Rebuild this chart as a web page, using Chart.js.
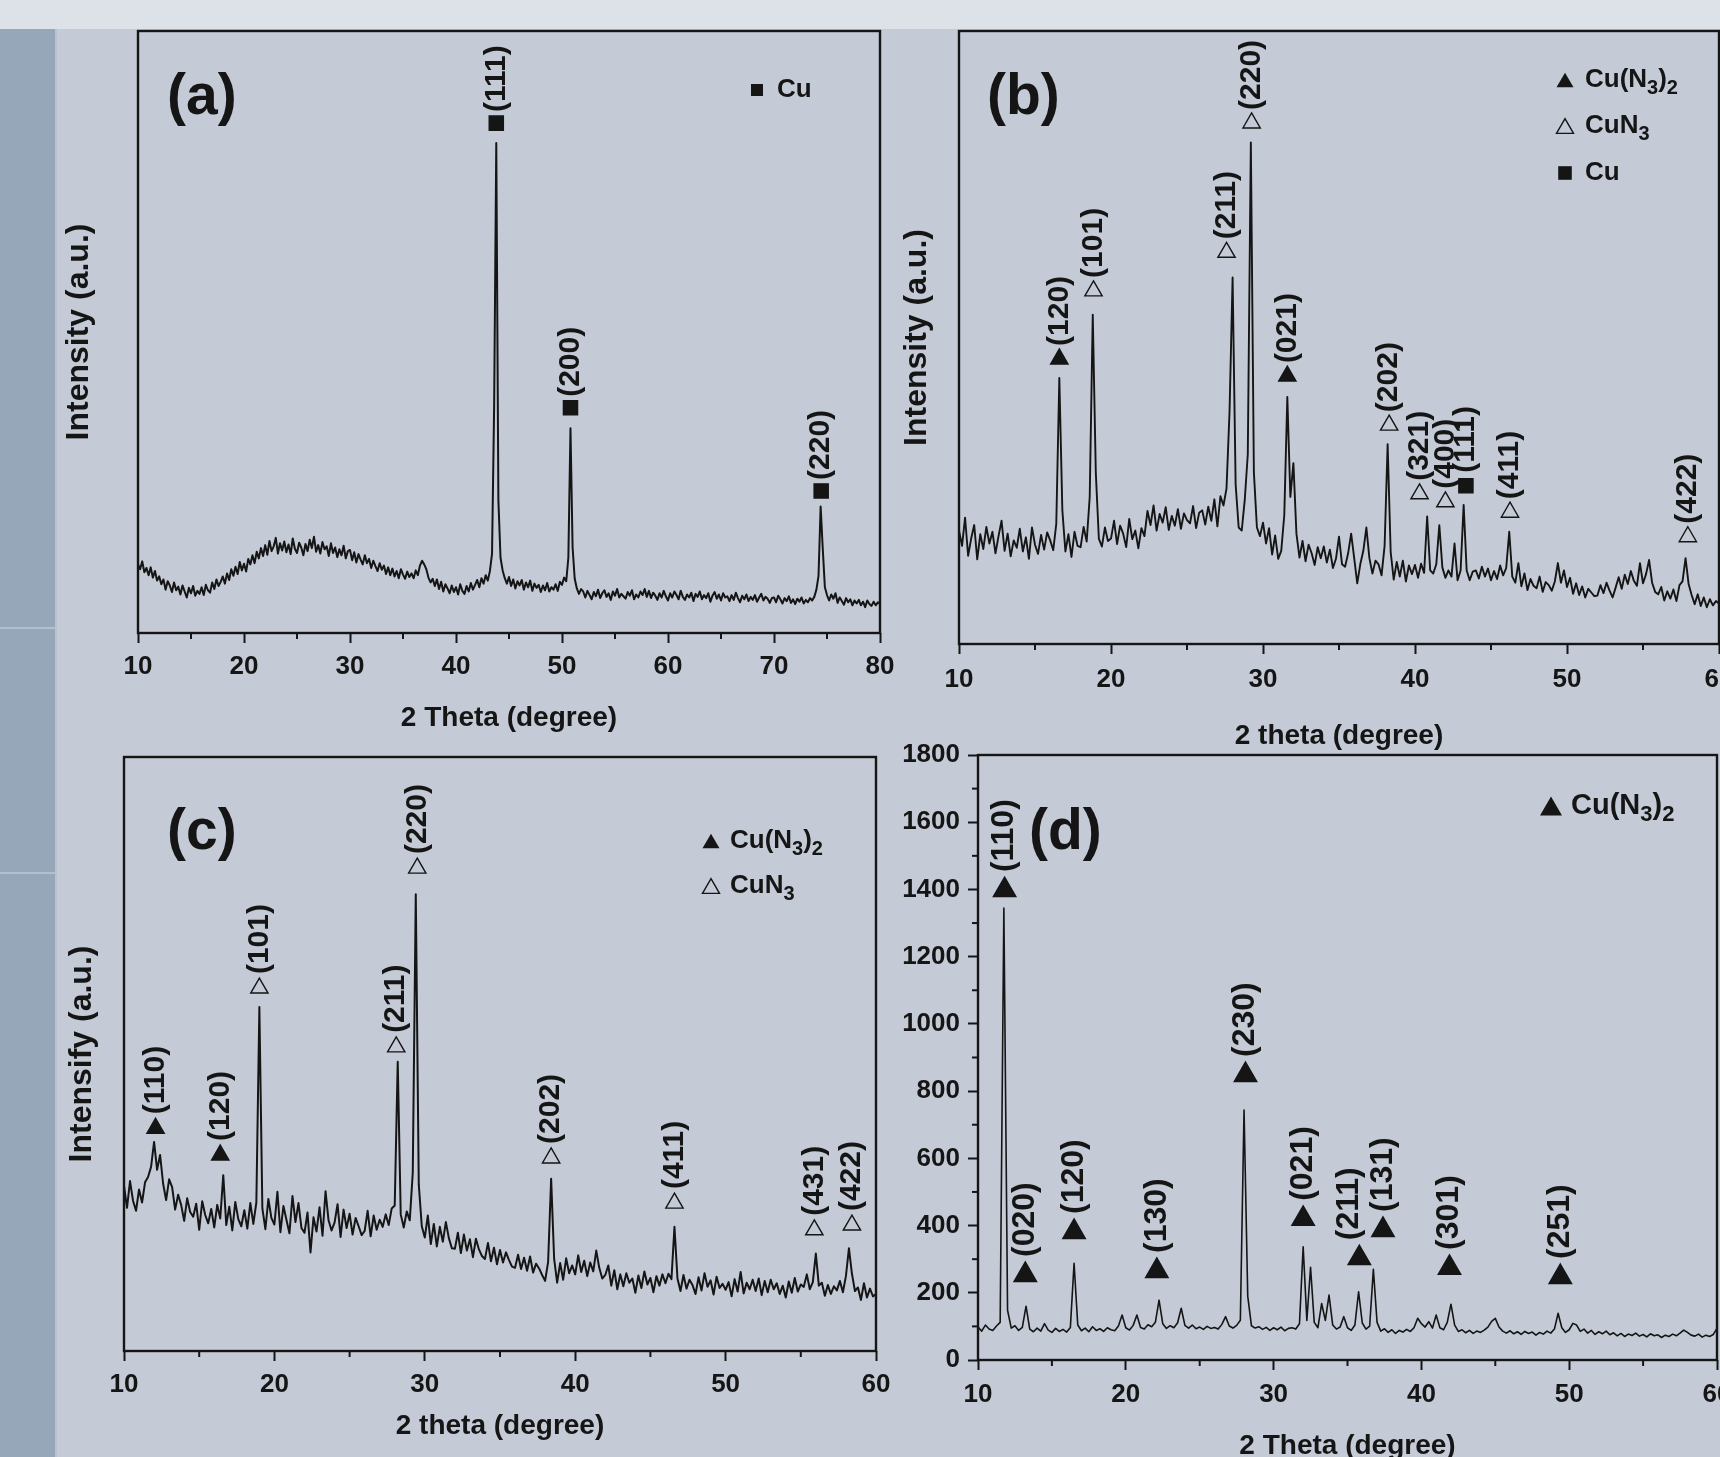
<!DOCTYPE html>
<html>
<head>
<meta charset="utf-8">
<title>XRD patterns (a)-(d)</title>
<script src="https://cdn.jsdelivr.net/npm/chart.js@4.4.1/dist/chart.umd.min.js"></script>
<style>
  html, body { margin: 0; padding: 0; }
  body { width: 1720px; height: 1457px; overflow: hidden; position: relative; background: #c5cbd6; }
  .band { position: absolute; left: 0; top: 0; width: 1720px; height: 29px; background: #dde1e8; }
  .side { position: absolute; left: 0; top: 29px; width: 55px; height: 1428px; background: #97a7ba; border-right: 2px solid #b9c3d0; }
  .rule { position: absolute; left: 0; width: 55px; height: 2px; background: #b3bfcd; }
  canvas { position: absolute; }
</style>
</head>
<body>
<div class="band"></div>
<div class="side"></div>
<div class="rule" style="top:627px"></div>
<div class="rule" style="top:872px"></div>
<canvas id="pa" width="900" height="740" style="left:0;top:0"></canvas>
<canvas id="pb" width="820" height="760" style="left:900px;top:0"></canvas>
<canvas id="pc" width="900" height="717" style="left:0;top:740px"></canvas>
<canvas id="pd" width="840" height="740" style="left:880px;top:740px"></canvas>
<script>
const FONT = "'Liberation Sans', Arial, Helvetica, sans-serif";
const INK = '#151515';

// 2theta grid (degrees) used by (a), (b) and (c)
const theta02 = [
  10,10.2,10.4,10.6,10.8,11,11.2,11.4,11.6,11.8,
  12,12.2,12.4,12.6,12.8,13,13.2,13.4,13.6,13.8,
  14,14.2,14.4,14.6,14.8,15,15.2,15.4,15.6,15.8,
  16,16.2,16.4,16.6,16.8,17,17.2,17.4,17.6,17.8,
  18,18.2,18.4,18.6,18.8,19,19.2,19.4,19.6,19.8,
  20,20.2,20.4,20.6,20.8,21,21.2,21.4,21.6,21.8,
  22,22.2,22.4,22.6,22.8,23,23.2,23.4,23.6,23.8,
  24,24.2,24.4,24.6,24.8,25,25.2,25.4,25.6,25.8,
  26,26.2,26.4,26.6,26.8,27,27.2,27.4,27.6,27.8,
  28,28.2,28.4,28.6,28.8,29,29.2,29.4,29.6,29.8,
  30,30.2,30.4,30.6,30.8,31,31.2,31.4,31.6,31.8,
  32,32.2,32.4,32.6,32.8,33,33.2,33.4,33.6,33.8,
  34,34.2,34.4,34.6,34.8,35,35.2,35.4,35.6,35.8,
  36,36.2,36.4,36.6,36.8,37,37.2,37.4,37.6,37.8,
  38,38.2,38.4,38.6,38.8,39,39.2,39.4,39.6,39.8,
  40,40.2,40.4,40.6,40.8,41,41.2,41.4,41.6,41.8,
  42,42.2,42.4,42.6,42.8,43,43.2,43.4,43.6,43.8,
  44,44.2,44.4,44.6,44.8,45,45.2,45.4,45.6,45.8,
  46,46.2,46.4,46.6,46.8,47,47.2,47.4,47.6,47.8,
  48,48.2,48.4,48.6,48.8,49,49.2,49.4,49.6,49.8,
  50,50.2,50.4,50.6,50.8,51,51.2,51.4,51.6,51.8,
  52,52.2,52.4,52.6,52.8,53,53.2,53.4,53.6,53.8,
  54,54.2,54.4,54.6,54.8,55,55.2,55.4,55.6,55.8,
  56,56.2,56.4,56.6,56.8,57,57.2,57.4,57.6,57.8,
  58,58.2,58.4,58.6,58.8,59,59.2,59.4,59.6,59.8,
  60,60.2,60.4,60.6,60.8,61,61.2,61.4,61.6,61.8,
  62,62.2,62.4,62.6,62.8,63,63.2,63.4,63.6,63.8,
  64,64.2,64.4,64.6,64.8,65,65.2,65.4,65.6,65.8,
  66,66.2,66.4,66.6,66.8,67,67.2,67.4,67.6,67.8,
  68,68.2,68.4,68.6,68.8,69,69.2,69.4,69.6,69.8,
  70,70.2,70.4,70.6,70.8,71,71.2,71.4,71.6,71.8,
  72,72.2,72.4,72.6,72.8,73,73.2,73.4,73.6,73.8,
  74,74.2,74.4,74.6,74.8,75,75.2,75.4,75.6,75.8,
  76,76.2,76.4,76.6,76.8,77,77.2,77.4,77.6,77.8,
  78,78.2,78.4,78.6,78.8,79,79.2,79.4,79.6,79.8,
  80
];

// ---- (a) Cu : intensity (a.u., 0-100 of the frame height), 10-80 deg
const intensityA = [
  11.4,10.6,11.9,10.1,10.8,9.6,10.9,9.2,10.3,8.7,
  9.4,8.1,8.9,7.2,8.6,7.9,6.8,8.4,7.1,7.7,
  6.4,7.9,6.9,5.9,7.5,6.6,7.8,6.2,7.0,6.5,
  7.6,6.3,8.0,7.1,6.7,8.4,7.3,8.9,7.8,8.5,
  9.4,8.2,9.9,8.8,10.6,9.5,11.0,9.8,11.8,10.4,
  11.5,10.2,12.3,11.4,12.9,11.6,13.5,12.4,14.1,12.8,
  14.6,13.0,15.3,13.6,14.4,15.8,13.2,14.9,13.7,15.2,
  13.4,14.7,13.1,15.7,14.0,13.3,15.0,14.2,12.9,14.8,
  13.6,15.5,14.1,16.0,13.5,14.6,13.2,15.1,13.9,14.4,
  12.8,14.9,13.3,14.2,12.6,13.9,12.9,14.5,12.4,13.6,
  13.8,12.1,13.4,11.7,13.1,12.2,11.4,12.9,11.6,12.3,
  10.8,12.0,11.1,10.3,11.6,10.5,11.2,9.8,10.9,9.6,
  10.7,9.4,10.3,9.1,10.6,9.7,9.0,10.2,9.3,9.9,
  9.1,10.4,9.6,11.2,12.0,11.4,10.6,9.2,8.4,9.0,
  7.8,8.9,7.3,8.5,6.9,8.1,7.4,6.6,7.9,6.8,
  7.6,6.4,8.1,7.0,6.5,7.8,6.9,8.3,7.2,8.0,
  8.8,7.6,9.1,8.2,9.6,8.7,10.3,13.2,38.0,81.4,
  22.0,12.5,10.4,9.1,8.2,9.3,7.8,8.9,7.4,8.6,
  7.9,8.8,7.2,8.4,7.6,8.7,7.0,8.2,7.5,8.0,
  6.8,7.9,7.1,8.3,6.9,7.6,7.2,8.1,7.0,8.5,
  8.0,9.2,8.6,12.5,34.0,14.2,9.0,7.4,6.5,7.3,
  6.9,5.9,7.0,6.3,5.6,6.8,6.1,7.2,5.8,6.6,
  7.1,6.0,6.6,5.5,6.9,6.2,7.3,5.9,6.5,6.1,
  5.7,6.8,6.2,7.1,5.6,6.4,5.9,6.9,6.3,7.3,
  6.0,7.0,5.8,6.7,6.2,5.5,6.6,5.9,7.0,6.1,
  5.4,6.6,5.9,6.9,6.3,5.6,7.0,6.0,5.5,6.4,
  5.9,6.7,5.3,6.5,6.0,6.9,5.6,6.3,5.8,6.6,
  5.2,6.2,6.8,5.7,6.4,5.4,6.6,5.9,6.1,5.3,
  6.3,5.5,6.7,5.8,5.1,6.2,5.6,6.4,5.3,6.0,
  5.5,6.3,5.2,5.9,6.5,5.4,6.0,5.7,5.0,5.8,
  5.9,5.1,6.2,5.6,4.9,5.8,5.3,6.1,5.0,5.6,
  4.8,5.7,5.2,5.9,4.9,5.5,5.1,5.8,5.4,6.0,
  7.2,9.5,21.0,14.0,7.6,6.3,5.4,6.4,5.7,6.6,
  5.0,5.9,5.3,4.7,5.8,5.1,5.6,4.6,5.4,4.9,
  5.5,4.6,5.2,4.3,5.4,4.8,4.5,5.2,4.6,5.1,
  4.8
];
const aMarkTheta = [43.8, 50.8, 74.45];
const aMarkY     = [84.7, 37.4, 23.6];
const aMarkHkl   = ['(111)', '(200)', '(220)'];
const aMarkPhase = ['Cu', 'Cu', 'Cu'];
const aLegend    = ['Cu'];

// ---- (b) intensity (a.u.), 10-60 deg on theta02
const intensityB = [
  18.5,16.0,20.6,14.4,17.2,19.4,13.8,17.9,15.5,19.1,
  16.4,18.3,14.8,17.6,20.1,15.2,18.0,14.3,16.9,15.7,
  18.8,15.1,17.4,13.9,19.0,16.2,14.7,17.8,15.4,18.2,
  16.9,15.3,19.6,43.4,21.8,15.1,17.9,14.2,18.3,16.0,
  15.8,19.1,16.7,24.0,53.7,28.0,17.2,15.9,19.0,16.8,
  17.2,20.1,16.3,19.3,18.0,15.8,20.4,17.1,18.5,15.6,
  18.9,17.6,21.7,19.4,22.6,18.5,21.2,19.8,22.3,18.6,
  20.9,19.3,22.0,18.8,21.3,20.2,19.7,22.5,18.9,21.4,
  21.8,19.5,22.4,20.1,23.6,19.2,24.1,22.6,25.4,38.0,
  59.8,26.0,19.0,18.5,23.5,31.0,81.8,28.0,19.0,17.6,
  19.8,16.4,18.9,14.6,17.7,13.9,15.2,21.0,40.3,24.0,
  29.5,18.0,14.1,16.8,13.5,16.2,14.8,12.9,15.8,14.0,
  15.9,13.3,15.4,12.4,13.9,17.5,13.0,12.6,14.8,18.0,
  14.0,9.9,13.0,15.2,19.0,14.0,11.5,13.6,13.0,11.2,
  16.0,32.6,15.0,10.5,13.4,11.0,13.6,10.2,12.8,11.4,
  12.9,10.8,13.1,11.6,20.8,12.0,11.5,13.0,19.4,12.5,
  10.8,12.0,11.0,16.4,10.4,12.0,22.7,12.0,10.4,11.8,
  12.0,10.7,12.6,11.0,12.3,10.4,11.9,10.6,12.8,11.2,
  12.4,18.3,11.0,10.0,13.2,9.4,11.5,8.8,10.6,9.5,
  9.1,11.0,8.5,10.1,9.6,8.7,10.2,13.2,10.0,12.0,
  9.3,10.8,8.2,9.9,8.0,9.4,7.6,9.0,8.4,7.8,
  7.9,9.6,8.3,10.0,8.7,7.6,9.2,10.9,9.0,11.3,
  9.8,11.9,10.3,9.5,13.2,9.9,11.4,13.7,10.0,8.5,
  8.1,9.3,7.1,8.6,7.4,8.9,7.0,9.6,10.2,14.0,
  9.8,8.0,6.5,8.1,6.2,7.6,6.0,7.3,6.3,7.0,
  6.6
];
const bMarkTheta = [16.6, 18.85, 27.6, 29.25, 31.6, 38.3, 40.3, 42.0, 43.35, 46.25, 57.95];
const bMarkY     = [46.5, 57.6, 63.9, 85.0, 43.7, 35.7, 24.5, 23.2, 25.8, 21.5, 17.5];
const bMarkHkl   = ['(120)', '(101)', '(211)', '(220)', '(021)', '(202)', '(321)', '(400)', '(111)', '(411)', '(422)'];
const bMarkPhase = ['CuN32', 'CuN3', 'CuN3', 'CuN3', 'CuN32', 'CuN3', 'CuN3', 'CuN3', 'Cu', 'CuN3', 'CuN3'];
const bLegend    = ['CuN32', 'CuN3', 'Cu'];

// ---- (c) intensity (a.u.), 10-60 deg on theta02
const intensityC = [
  27.8,24.1,28.6,25.3,23.6,27.2,25.0,28.4,29.3,31.0,
  35.2,30.5,33.0,28.2,25.4,28.9,27.6,23.8,26.3,24.6,
  21.9,25.7,23.4,22.6,24.8,20.4,25.2,22.9,21.5,23.9,
  20.8,24.6,22.3,29.6,21.2,24.3,20.3,25.1,22.2,21.0,
  23.7,20.6,24.9,21.4,25.0,57.9,24.0,20.5,25.6,22.4,
  21.3,26.8,20.0,24.4,22.1,19.8,26.1,21.7,24.9,20.7,
  19.9,23.3,16.6,22.5,20.1,24.2,19.4,26.9,22.0,20.3,
  21.6,24.7,19.2,23.8,20.7,23.1,19.6,22.4,21.0,19.5,
  20.2,23.6,19.3,22.8,20.4,22.1,20.9,23.0,21.2,24.0,
  24.5,48.7,23.0,20.8,23.5,22.0,30.0,76.9,28.0,21.0,
  19.1,22.8,18.0,21.4,17.6,20.9,18.4,21.7,19.0,17.3,
  17.2,19.9,16.5,19.6,16.9,18.8,15.8,18.9,17.1,16.0,
  15.5,18.2,15.1,17.4,14.6,17.0,14.9,16.6,15.3,14.2,
  14.0,16.2,13.8,15.7,13.5,15.9,13.2,14.7,13.9,12.8,
  11.8,15.0,29.0,15.5,11.5,14.8,12.0,15.6,13.1,14.4,
  12.9,16.1,13.3,15.2,12.6,14.9,13.4,16.9,14.0,12.2,
  12.8,14.4,11.0,13.6,10.4,12.9,10.9,13.1,11.5,12.2,
  9.8,12.7,10.6,13.4,11.2,12.3,9.9,12.6,11.0,12.9,
  11.4,13.0,12.1,20.9,12.2,10.1,12.8,10.5,12.0,11.1,
  9.6,12.4,10.2,13.1,10.8,11.9,9.5,12.5,10.6,11.3,
  10.3,11.6,9.2,12.1,10.0,13.3,9.7,11.5,10.4,12.0,
  10.1,12.2,9.4,11.8,9.9,12.0,10.4,11.4,9.6,11.0,
  9.0,11.7,9.8,12.3,10.0,11.2,10.8,12.9,10.4,11.6,
  16.4,11.0,11.5,9.3,11.1,9.6,10.9,10.2,11.8,9.9,
  12.6,17.3,13.0,10.1,10.7,8.6,11.4,9.0,10.5,9.2,
  9.6
];
const cMarkTheta = [12.1, 16.4, 19.0, 28.1, 29.5, 38.4, 46.6, 55.9, 58.4];
const cMarkY     = [37.5, 33.0, 61.1, 51.2, 81.3, 32.5, 24.9, 20.4, 21.2];
const cMarkHkl   = ['(110)', '(120)', '(101)', '(211)', '(220)', '(202)', '(411)', '(431)', '(422)'];
const cMarkPhase = ['CuN32', 'CuN32', 'CuN3', 'CuN3', 'CuN3', 'CuN3', 'CuN3', 'CuN3', 'CuN3'];
const cLegend    = ['CuN32', 'CuN3'];

// ---- (d) counts, 2theta grid (degrees)
const thetaD = [
  10,10.25,10.5,10.75,11,11.25,11.5,11.75,
  12,12.25,12.5,12.75,13,13.25,13.5,13.75,
  14,14.25,14.5,14.75,15,15.25,15.5,15.75,
  16,16.25,16.5,16.75,17,17.25,17.5,17.75,
  18,18.25,18.5,18.75,19,19.25,19.5,19.75,
  20,20.25,20.5,20.75,21,21.25,21.5,21.75,
  22,22.25,22.5,22.75,23,23.25,23.5,23.75,
  24,24.25,24.5,24.75,25,25.25,25.5,25.75,
  26,26.25,26.5,26.75,27,27.25,27.5,27.75,
  28,28.25,28.5,28.75,29,29.25,29.5,29.75,
  30,30.25,30.5,30.75,31,31.25,31.5,31.75,
  32,32.25,32.5,32.75,33,33.25,33.5,33.75,
  34,34.25,34.5,34.75,35,35.25,35.5,35.75,
  36,36.25,36.5,36.75,37,37.25,37.5,37.75,
  38,38.25,38.5,38.75,39,39.25,39.5,39.75,
  40,40.25,40.5,40.75,41,41.25,41.5,41.75,
  42,42.25,42.5,42.75,43,43.25,43.5,43.75,
  44,44.25,44.5,44.75,45,45.25,45.5,45.75,
  46,46.25,46.5,46.75,47,47.25,47.5,47.75,
  48,48.25,48.5,48.75,49,49.25,49.5,49.75,
  50,50.25,50.5,50.75,51,51.25,51.5,51.75,
  52,52.25,52.5,52.75,53,53.25,53.5,53.75,
  54,54.25,54.5,54.75,55,55.25,55.5,55.75,
  56,56.25,56.5,56.75,57,57.25,57.5,57.75,
  58,58.25,58.5,58.75,59,59.25,59.5,59.75,
  60
];
const countsD = [
  98,86,104,92,88,101,112,1345,
  148,95,102,88,97,160,92,84,
  95,86,108,89,82,94,85,91,
  83,97,288,104,87,95,84,99,
  88,93,85,96,90,87,101,134,
  96,89,103,134,97,92,105,99,
  112,178,108,94,102,96,110,154,
  103,95,104,93,98,91,100,94,
  97,92,106,129,101,95,103,118,
  744,190,102,95,99,91,97,88,
  96,90,98,87,94,96,92,108,
  337,118,276,112,96,168,118,193,
  104,92,98,129,96,88,104,203,
  110,92,101,270,112,86,93,82,
  90,79,88,83,91,85,96,124,
  108,98,114,95,134,96,90,112,
  166,104,85,90,81,88,79,86,
  82,89,98,115,124,98,86,80,
  87,78,84,76,85,79,83,74,
  82,77,86,80,92,139,96,82,
  90,109,104,85,92,80,88,76,
  84,78,86,75,81,72,79,70,
  77,73,80,71,76,69,78,72,
  75,67,74,70,77,72,80,89,
  82,74,71,77,68,74,70,76,
  94
];
const dMarkTheta = [11.8, 13.2, 16.5, 22.1, 28.1, 32.0, 35.8, 37.4, 41.9, 49.4];
const dMarkY     = [1398, 253, 381, 265, 848, 420, 303, 387, 274, 247];
const dMarkHkl   = ['(110)', '(020)', '(120)', '(130)', '(230)', '(021)', '(211)', '(131)', '(301)', '(251)'];
const dMarkPhase = ['CuN32', 'CuN32', 'CuN32', 'CuN32', 'CuN32', 'CuN32', 'CuN32', 'CuN32', 'CuN32', 'CuN32'];
const dLegend    = ['CuN32'];

// phase symbols and legend names
const phaseStyle = {
  Cu:    { shape: 'rect',     fill: true },
  CuN3:  { shape: 'triangle', fill: false },
  CuN32: { shape: 'triangle', fill: true }
};
const phaseText = {
  Cu:    [['Cu', 0]],
  CuN3:  [['CuN', 0], ['3', 1]],
  CuN32: [['Cu(N', 0], ['3', 1], [')', 0], ['2', 1]]
};

function drawMarker(ctx, phase, x, y, size) {
  const st = phaseStyle[phase];
  ctx.beginPath();
  if (st.shape === 'rect') {
    const s = size * 0.8;
    ctx.rect(x - s / 2, y - s / 2, s, s);
  } else {
    const h = size * 0.866;
    ctx.moveTo(x, y - h / 2);
    ctx.lineTo(x + size / 2, y + h / 2);
    ctx.lineTo(x - size / 2, y + h / 2);
    ctx.closePath();
  }
  if (st.fill) { ctx.fillStyle = INK; ctx.fill(); }
  else { ctx.lineWidth = 1.4; ctx.strokeStyle = INK; ctx.stroke(); }
}

function drawFormula(ctx, phase, x, y, size) {
  let cx = x;
  ctx.fillStyle = INK;
  ctx.textAlign = 'left';
  ctx.textBaseline = 'middle';
  phaseText[phase].forEach(([t, sub]) => {
    ctx.font = `bold ${sub ? Math.round(size * 0.75) : size}px ${FONT}`;
    ctx.fillText(t, cx, y + (sub ? size * 0.32 : 0));
    cx += ctx.measureText(t).width;
  });
}

// frame, minor ticks, panel letter, legend and (hkl) labels
function makeDecor(p) {
  return {
    id: 'decor',
    afterDatasetsDraw(chart) {
      const { ctx, chartArea: A, scales: { x, y } } = chart;
      ctx.save();
      ctx.strokeStyle = INK;
      ctx.lineWidth = 2.4;
      ctx.strokeRect(A.left, A.top, A.right - A.left, A.bottom - A.top);
      ctx.lineWidth = 2;
      for (let v = x.min + 5; v < x.max; v += 10) {
        const px = x.getPixelForValue(v);
        ctx.beginPath(); ctx.moveTo(px, A.bottom); ctx.lineTo(px, A.bottom + 6); ctx.stroke();
      }
      if (p.minorY) {
        for (let v = p.minorY; v < y.max; v += 2 * p.minorY) {
          const py = y.getPixelForValue(v);
          ctx.beginPath(); ctx.moveTo(A.left, py); ctx.lineTo(A.left - 6, py); ctx.stroke();
        }
      }
      ctx.fillStyle = INK;
      ctx.textAlign = 'left';
      ctx.textBaseline = 'middle';
      ctx.font = `bold 57px ${FONT}`;
      ctx.fillText(p.letter, p.letterAt[0], p.letterAt[1]);

      p.legend.forEach((ph, i) => {
        const ly = p.legendY[i];
        drawMarker(ctx, ph, p.legendX, ly, p.legendMark);
        drawFormula(ctx, ph, p.legendX + p.legendGap, ly, p.legendFont);
      });

      ctx.fillStyle = INK;
      ctx.font = `bold ${p.hklFont}px ${FONT}`;
      p.marks.theta.forEach((t, i) => {
        const px = x.getPixelForValue(t) + ((p.hklShift && p.hklShift[i]) || 0);
        const py = y.getPixelForValue(p.marks.y[i]);
        ctx.save();
        ctx.translate(px, py - p.hklGap);
        ctx.rotate(-Math.PI / 2);
        ctx.textAlign = 'left';
        ctx.textBaseline = 'middle';
        ctx.fillText(p.marks.hkl[i], 0, 0);
        ctx.restore();
      });
      ctx.restore();
    }
  };
}

function buildPanel(p) {
  const canvas = document.getElementById(p.canvas);
  const W = canvas.width, H = canvas.height, A = p.area;
  const tickFont = { family: FONT, size: 26, weight: 'bold' };
  const xTitleFont = { family: FONT, size: 28, weight: 'bold' };
  const yTitleFont = { family: FONT, size: 32, weight: 'bold' };
  const phases = p.marks.phase;

  const yAxis = {
    min: p.yMin, max: p.yMax,
    border: { display: false },
    afterFit: s => { s.width = A.l; s.paddingTop = 0; s.paddingBottom = 0; }
  };
  if (p.yTicks) {
    yAxis.ticks = { stepSize: p.yTicks, color: INK, padding: 8, font: tickFont, callback: v => String(v) };
    yAxis.grid = { drawOnChartArea: false, tickLength: 10, tickWidth: 2, tickColor: INK };
    yAxis.title = { display: false };
  } else {
    yAxis.ticks = { display: false };
    yAxis.grid = { display: false };
    yAxis.title = { display: true, text: p.yTitle, color: INK, font: yTitleFont,
                    padding: { top: p.yTitleX - 32 * 1.2 / 2, bottom: 0 } };
  }

  return new Chart(canvas, {
    type: 'scatter',
    data: {
      datasets: [
        {
          data: p.marks.theta.map((t, i) => ({ x: t, y: p.marks.y[i] })),
          showLine: false,
          pointRadius: p.markR,
          pointStyle: c => phaseStyle[phases[c.dataIndex]].shape,
          pointBackgroundColor: c => phaseStyle[phases[c.dataIndex]].fill ? INK : 'rgba(0,0,0,0)',
          pointBorderColor: INK,
          pointBorderWidth: 1.4
        },
        {
          data: p.values.map((v, i) => ({ x: p.theta[i], y: v })),
          showLine: true,
          borderColor: INK,
          borderWidth: p.lineW,
          borderJoinStyle: 'round',
          pointRadius: 0,
          tension: 0
        }
      ]
    },
    options: {
      responsive: false,
      animation: false,
      devicePixelRatio: 1,
      events: [],
      layout: { autoPadding: false, padding: { left: 0, top: A.t, right: W - A.r, bottom: 0 } },
      plugins: { legend: { display: false }, tooltip: { enabled: false } },
      scales: {
        x: {
          type: 'linear', min: p.xMin, max: p.xMax,
          ticks: { stepSize: 10, autoSkip: false, maxRotation: 0, color: INK, font: tickFont,
                   padding: p.xTickY - A.b - 10 - 26 * 1.2 / 2 },
          grid: { drawOnChartArea: false, tickLength: 10, tickWidth: 2, tickColor: INK },
          border: { display: false },
          title: { display: true, text: p.xTitle, color: INK, font: xTitleFont,
                   padding: { top: 0, bottom: H - p.xTitleY - 28 * 1.2 / 2 } },
          afterFit: s => { s.height = H - A.b; s.paddingLeft = 0; s.paddingRight = 0; }
        },
        y: yAxis
      }
    },
    plugins: [makeDecor(p)]
  });
}

buildPanel({
  canvas: 'pa', area: { l: 138, t: 31, r: 880, b: 633 },
  theta: theta02, values: intensityA, xMin: 10, xMax: 80, yMin: 0, yMax: 100, lineW: 2,
  xTitle: '2 Theta (degree)', yTitle: 'Intensity (a.u.)', xTickY: 667, xTitleY: 718, yTitleX: 79,
  marks: { theta: aMarkTheta, y: aMarkY, hkl: aMarkHkl, phase: aMarkPhase }, markR: 10,
  letter: '(a)', letterAt: [167, 98],
  legend: aLegend, legendX: 757, legendY: [90], legendGap: 20, legendMark: 15, legendFont: 26,
  hklFont: 30, hklGap: 11
});

buildPanel({
  canvas: 'pb', area: { l: 59, t: 31, r: 819, b: 644 },
  theta: theta02, values: intensityB, xMin: 10, xMax: 60, yMin: 0, yMax: 100, lineW: 1.9,
  xTitle: '2 theta (degree)', yTitle: 'Intensity (a.u.)', xTickY: 680, xTitleY: 736, yTitleX: 17,
  marks: { theta: bMarkTheta, y: bMarkY, hkl: bMarkHkl, phase: bMarkPhase }, markR: 10,
  letter: '(b)', letterAt: [87, 98],
  legend: bLegend, legendX: 665, legendY: [80, 126, 173], legendGap: 20, legendMark: 17, legendFont: 26,
  hklFont: 30, hklGap: 13
});

buildPanel({
  canvas: 'pc', area: { l: 124, t: 17, r: 876, b: 611 },
  theta: theta02, values: intensityC, xMin: 10, xMax: 60, yMin: 0, yMax: 100, lineW: 2,
  xTitle: '2 theta (degree)', yTitle: 'Intensify (a.u.)', xTickY: 645, xTitleY: 686, yTitleX: 82,
  marks: { theta: cMarkTheta, y: cMarkY, hkl: cMarkHkl, phase: cMarkPhase }, markR: 10,
  letter: '(c)', letterAt: [167, 93],
  legend: cLegend, legendX: 711, legendY: [101, 146], legendGap: 19, legendMark: 17, legendFont: 26,
  hklFont: 30, hklGap: 14
});

buildPanel({
  canvas: 'pd', area: { l: 98, t: 15, r: 837, b: 620 },
  theta: thetaD, values: countsD, xMin: 10, xMax: 60, yMin: 0, yMax: 1800, yTicks: 200, minorY: 100, lineW: 1.6,
  xTitle: '2 Theta (degree)', xTickY: 655, xTitleY: 706,
  marks: { theta: dMarkTheta, y: dMarkY, hkl: dMarkHkl, phase: dMarkPhase }, markR: 13,
  letter: '(d)', letterAt: [149, 93],
  legend: dLegend, legendX: 671, legendY: [66], legendGap: 20, legendMark: 22, legendFont: 29,
  hklFont: 32, hklGap: 18, hklShift: { 6: -10 }
});
</script>
</body>
</html>
